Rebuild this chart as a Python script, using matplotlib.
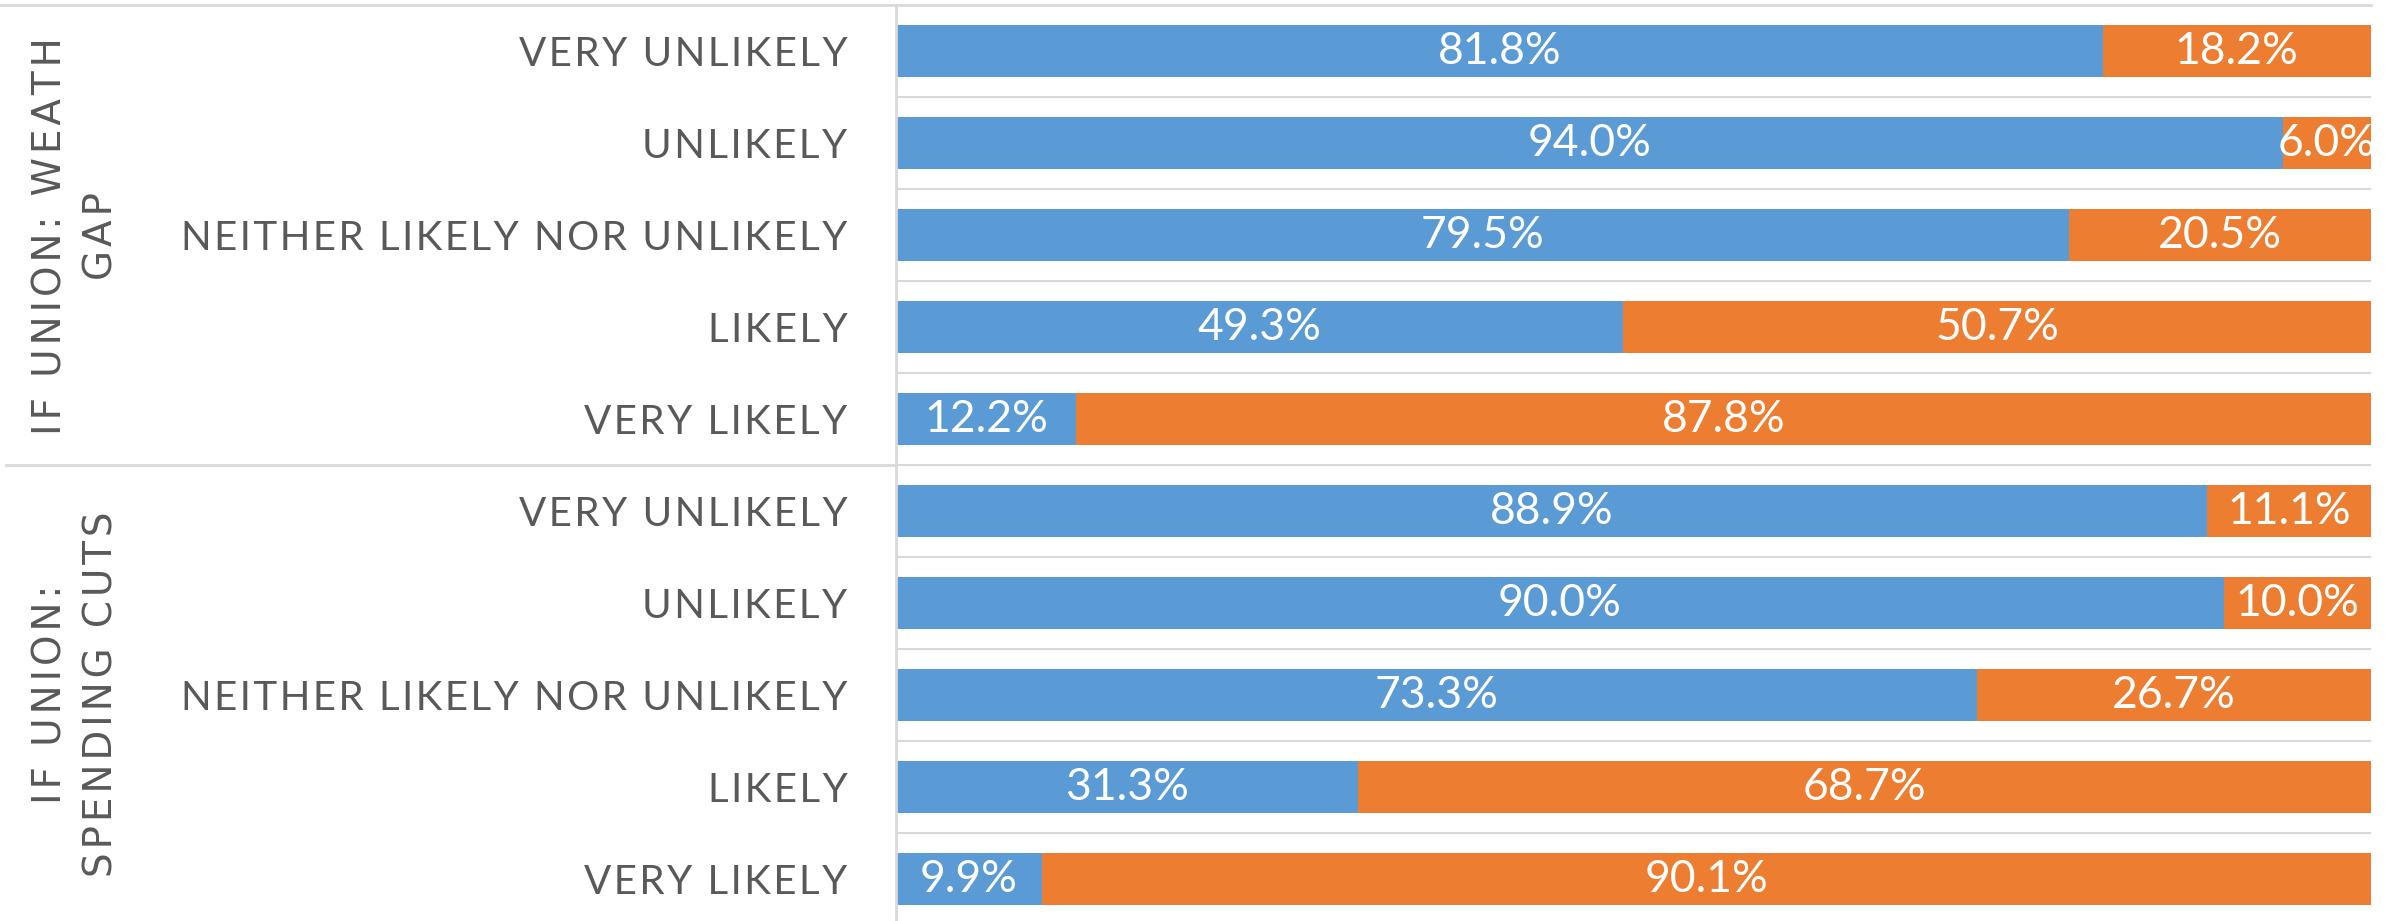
import matplotlib
matplotlib.use("Agg")
import matplotlib.pyplot as plt
import numpy as np

# data
groups = ['IF UNION: WEATH\nGAP', 'IF UNION:\nSPENDING CUTS']
categories = ['VERY UNLIKELY', 'UNLIKELY', 'NEITHER LIKELY NOR UNLIKELY', 'LIKELY', 'VERY LIKELY']
no_vals = [81.8, 94.0, 79.5, 49.3, 12.2, 88.9, 90.0, 73.3, 31.3, 9.9]
yes_vals = [18.2, 6.0, 20.5, 50.7, 87.8, 11.1, 10.0, 26.7, 68.7, 90.1]

blue = '#5B9BD5'
orange = '#ED7D31'
grid_c = '#D9D9D9'
text_c = '#595959'
W, H = 2392, 921


def spaced(s):
    # fake letter spacing with hair spaces between characters
    return '\n'.join('\u200a'.join(line) for line in s.split('\n'))


fig = plt.figure(figsize=(W / 100, H / 100), dpi=100)
ax = fig.add_axes([896 / W, -4 / H, (2371 - 896) / W, 920 / H])

labels = categories * len(groups)
y = np.arange(len(labels))
no_vals = np.array(no_vals)
yes_vals = np.array(yes_vals)

ax.barh(y, no_vals, height=0.555, color=blue)
ax.barh(y, yes_vals, left=no_vals, height=0.555, color=orange)

for i in range(len(y)):
    ax.text(no_vals[i] / 2, y[i], '%.1f%%' % no_vals[i], ha='center', va='center',
            color='white', fontsize=32, family='Lato')
    ax.text(no_vals[i] + yes_vals[i] / 2, y[i], '%.1f%%' % yes_vals[i], ha='center', va='center',
            color='white', fontsize=32, family='Lato')

ax.set_xlim(0, 100)
ax.set_ylim(len(y) - 0.5, -0.5)
ax.set_yticks(y)
ax.set_yticklabels([spaced(l) for l in labels], fontsize=29, family=['Lato', 'DejaVu Sans'], color=text_c)
ax.tick_params(axis='y', length=0, pad=35)
ax.set_xticks([])
ax.set_yticks(np.arange(len(y) + 1) - 0.5, minor=True)
ax.tick_params(axis='y', which='minor', length=0)
ax.grid(axis='y', which='minor', color=grid_c, linewidth=1.5)
ax.set_axisbelow(True)
for s in ['top', 'right', 'bottom']:
    ax.spines[s].set_visible(False)
ax.spines['left'].set_color(grid_c)
ax.spines['left'].set_linewidth(2)

# outer lines of the grouped category axis
fig.add_artist(plt.Line2D([0, 2371 / W], [1 - 5 / H, 1 - 5 / H], color=grid_c, lw=2))
fig.add_artist(plt.Line2D([6 / W, 896 / W], [1 - 465 / H, 1 - 465 / H], color=grid_c, lw=2))

# group labels
centres = [236, 694]
for g, c in zip(groups, centres):
    fig.text(76 / W, 1 - c / H, spaced(g), rotation=90, ha='center', va='center', fontsize=28,
             color=text_c, family='DejaVu Sans', linespacing=1.45, multialignment='center')

fig.savefig('out.png', dpi=100)
